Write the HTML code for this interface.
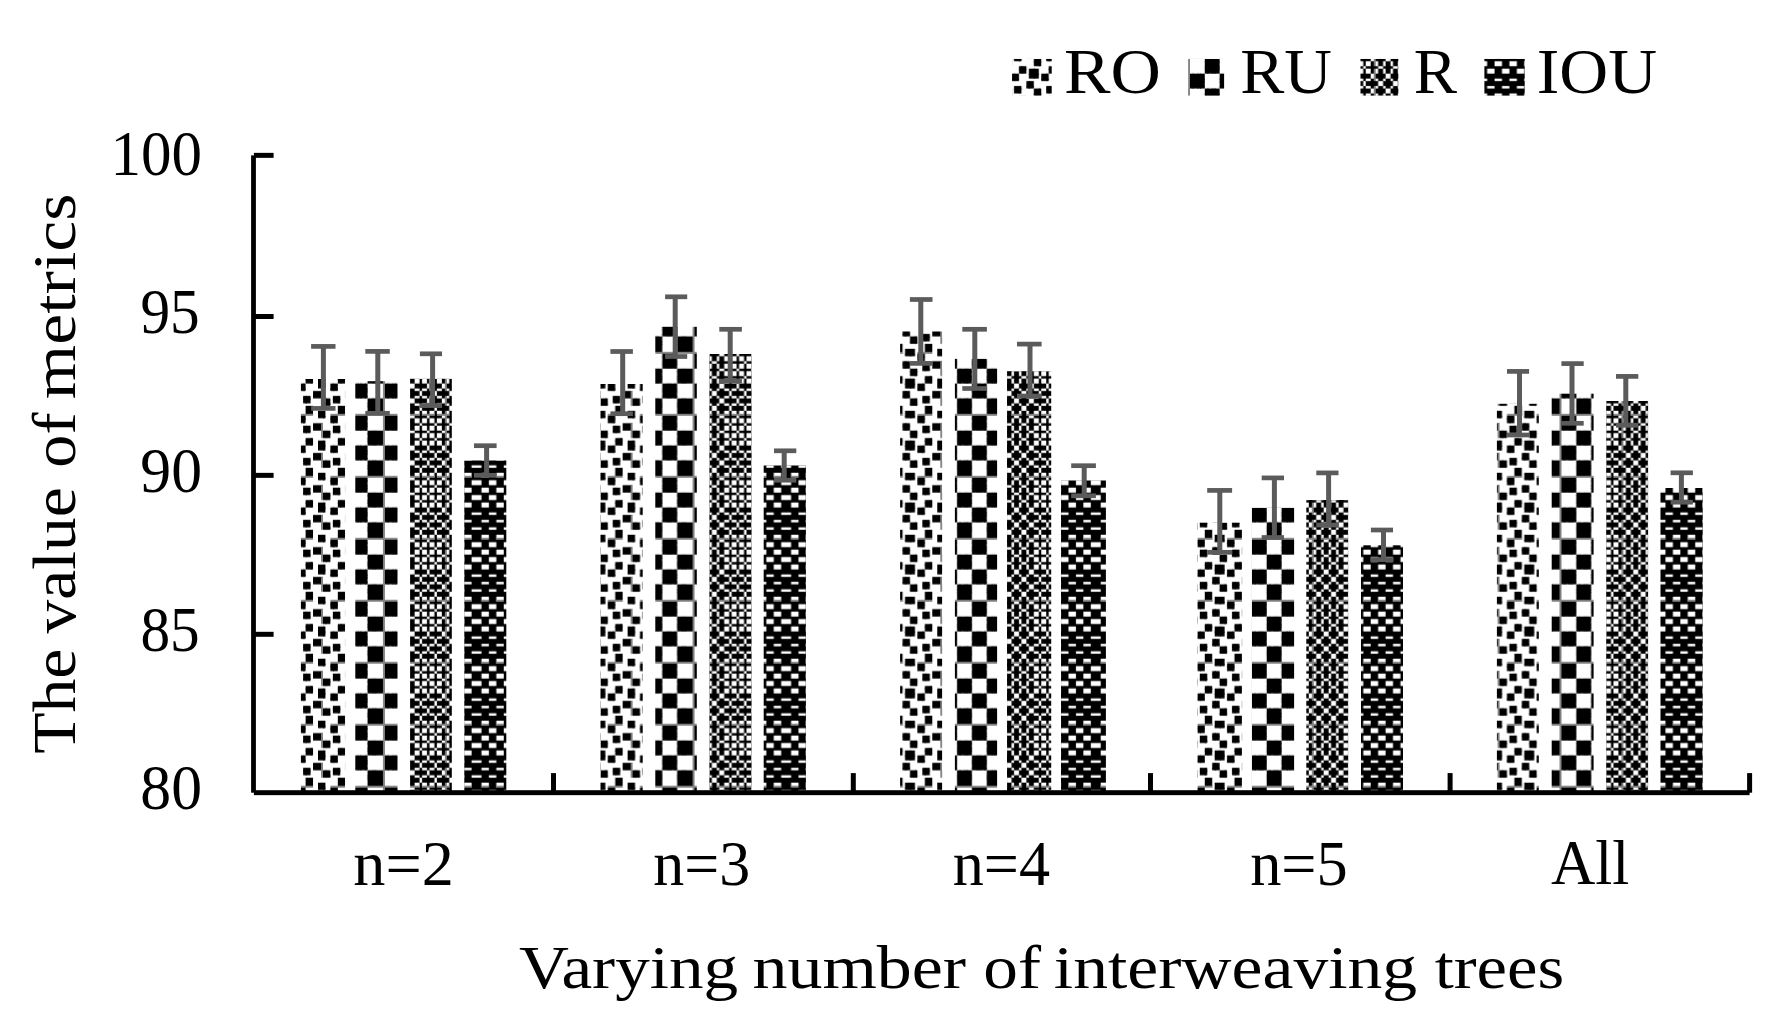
<!DOCTYPE html>
<html lang="en">
<head>
<meta charset="utf-8">
<title>Varying number of interweaving trees</title>
<style>
html,body{margin:0;padding:0;background:#fff;}
body{width:1775px;height:1026px;overflow:hidden;}
svg{display:block;}
text{font-family:'Liberation Serif', serif;fill:#000;}
</style>
</head>
<body>
<svg width="1775" height="1026" viewBox="0 0 1775 1026">
<defs>
<pattern id="p1" patternUnits="userSpaceOnUse" x="-53.550" y="-23.060" width="61.925" height="61.980"><rect x="-1" y="-1" width="63.92" height="63.98" fill="#fff"/><g fill="#000"><rect x="-1" y="-1" width="7.25" height="7.26"/><rect x="4.95" y="-1" width="2.48" height="7.26"/><rect x="19.82" y="-1" width="3.78" height="5.96"/><rect x="22.29" y="-1" width="4.95" height="5.96"/><rect x="29.72" y="-1" width="6.25" height="7.26"/><rect x="34.68" y="-1" width="4.95" height="7.26"/><rect x="49.54" y="-1" width="6.25" height="5.96"/><rect x="54.49" y="-1" width="2.48" height="5.96"/><rect x="-1" y="4.96" width="7.25" height="2.48"/><rect x="4.95" y="4.96" width="2.48" height="2.48"/><rect x="12.38" y="4.96" width="3.78" height="3.78"/><rect x="14.86" y="4.96" width="4.95" height="3.78"/><rect x="29.72" y="4.96" width="6.25" height="2.48"/><rect x="34.68" y="4.96" width="4.95" height="2.48"/><rect x="42.11" y="4.96" width="6.25" height="3.78"/><rect x="47.06" y="4.96" width="2.48" height="3.78"/><rect x="12.38" y="7.44" width="3.78" height="4.96"/><rect x="14.86" y="7.44" width="4.95" height="4.96"/><rect x="42.11" y="7.44" width="6.25" height="4.96"/><rect x="47.06" y="7.44" width="2.48" height="4.96"/><rect x="-1" y="12.4" width="5.95" height="3.78"/><rect x="27.25" y="12.4" width="3.78" height="3.78"/><rect x="29.72" y="12.4" width="4.95" height="3.78"/><rect x="56.97" y="12.4" width="7.25" height="3.78"/><rect x="-1" y="14.88" width="5.95" height="4.96"/><rect x="14.86" y="14.88" width="6.25" height="6.26"/><rect x="19.82" y="14.88" width="2.48" height="6.26"/><rect x="27.25" y="14.88" width="3.78" height="4.96"/><rect x="29.72" y="14.88" width="4.95" height="4.96"/><rect x="47.06" y="14.88" width="3.78" height="6.26"/><rect x="49.54" y="14.88" width="4.95" height="6.26"/><rect x="56.97" y="14.88" width="7.25" height="4.96"/><rect x="4.95" y="19.83" width="3.78" height="3.78"/><rect x="7.43" y="19.83" width="4.95" height="3.78"/><rect x="14.86" y="19.83" width="6.25" height="2.48"/><rect x="19.82" y="19.83" width="2.48" height="2.48"/><rect x="34.68" y="19.83" width="6.25" height="3.78"/><rect x="39.63" y="19.83" width="2.48" height="3.78"/><rect x="47.06" y="19.83" width="3.78" height="2.48"/><rect x="49.54" y="19.83" width="4.95" height="2.48"/><rect x="4.95" y="22.31" width="3.78" height="4.96"/><rect x="7.43" y="22.31" width="4.95" height="4.96"/><rect x="34.68" y="22.31" width="6.25" height="4.96"/><rect x="39.63" y="22.31" width="2.48" height="4.96"/><rect x="19.82" y="27.27" width="3.78" height="3.78"/><rect x="22.29" y="27.27" width="4.95" height="3.78"/><rect x="49.54" y="27.27" width="6.25" height="3.78"/><rect x="54.49" y="27.27" width="2.48" height="3.78"/><rect x="-1" y="29.75" width="7.25" height="6.26"/><rect x="4.95" y="29.75" width="2.48" height="6.26"/><rect x="19.82" y="29.75" width="3.78" height="4.96"/><rect x="22.29" y="29.75" width="4.95" height="4.96"/><rect x="29.72" y="29.75" width="6.25" height="6.26"/><rect x="34.68" y="29.75" width="4.95" height="6.26"/><rect x="49.54" y="29.75" width="6.25" height="4.96"/><rect x="54.49" y="29.75" width="2.48" height="4.96"/><rect x="-1" y="34.71" width="7.25" height="4.96"/><rect x="4.95" y="34.71" width="2.48" height="4.96"/><rect x="12.38" y="34.71" width="3.78" height="6.26"/><rect x="14.86" y="34.71" width="4.95" height="6.26"/><rect x="29.72" y="34.71" width="6.25" height="4.96"/><rect x="34.68" y="34.71" width="4.95" height="4.96"/><rect x="42.11" y="34.71" width="6.25" height="6.26"/><rect x="47.06" y="34.71" width="2.48" height="6.26"/><rect x="12.38" y="39.67" width="3.78" height="2.48"/><rect x="14.86" y="39.67" width="4.95" height="2.48"/><rect x="42.11" y="39.67" width="6.25" height="2.48"/><rect x="47.06" y="39.67" width="2.48" height="2.48"/><rect x="-1" y="42.15" width="5.95" height="6.26"/><rect x="27.25" y="42.15" width="3.78" height="6.26"/><rect x="29.72" y="42.15" width="4.95" height="6.26"/><rect x="56.97" y="42.15" width="7.25" height="6.26"/><rect x="-1" y="47.1" width="5.95" height="2.48"/><rect x="14.86" y="47.1" width="6.25" height="3.78"/><rect x="19.82" y="47.1" width="2.48" height="3.78"/><rect x="27.25" y="47.1" width="3.78" height="2.48"/><rect x="29.72" y="47.1" width="4.95" height="2.48"/><rect x="47.06" y="47.1" width="3.78" height="3.78"/><rect x="49.54" y="47.1" width="4.95" height="3.78"/><rect x="56.97" y="47.1" width="7.25" height="2.48"/><rect x="4.95" y="49.58" width="3.78" height="6.26"/><rect x="7.43" y="49.58" width="4.95" height="6.26"/><rect x="14.86" y="49.58" width="6.25" height="4.96"/><rect x="19.82" y="49.58" width="2.48" height="4.96"/><rect x="34.68" y="49.58" width="6.25" height="6.26"/><rect x="39.63" y="49.58" width="2.48" height="6.26"/><rect x="47.06" y="49.58" width="3.78" height="4.96"/><rect x="49.54" y="49.58" width="4.95" height="4.96"/><rect x="4.95" y="54.54" width="3.78" height="2.48"/><rect x="7.43" y="54.54" width="4.95" height="2.48"/><rect x="34.68" y="54.54" width="6.25" height="2.48"/><rect x="39.63" y="54.54" width="2.48" height="2.48"/><rect x="19.82" y="57.02" width="3.78" height="7.26"/><rect x="22.29" y="57.02" width="4.95" height="7.26"/><rect x="49.54" y="57.02" width="6.25" height="7.26"/><rect x="54.49" y="57.02" width="2.48" height="7.26"/></g><g fill="#848484"><rect x="3.05" y="12.4" width="1.9" height="14.88"/><rect x="3.05" y="42.15" width="1.9" height="14.88"/><rect x="12.38" y="3.05" width="14.86" height="1.9"/><rect x="42.11" y="3.05" width="14.86" height="1.9"/></g></pattern>
<pattern id="p2" patternUnits="userSpaceOnUse" x="-53.550" y="-23.060" width="61.925" height="61.980"><rect x="-1" y="-1" width="63.92" height="63.98" fill="#fff"/><g fill="#000"><rect x="-1" y="-1" width="5.95" height="5.96"/><rect x="19.82" y="-1" width="3.78" height="5.96"/><rect x="22.29" y="-1" width="6.25" height="5.96"/><rect x="27.25" y="-1" width="3.78" height="5.96"/><rect x="29.72" y="-1" width="4.95" height="5.96"/><rect x="49.54" y="-1" width="6.25" height="5.96"/><rect x="54.49" y="-1" width="3.78" height="5.96"/><rect x="56.97" y="-1" width="7.25" height="5.96"/><rect x="4.95" y="4.96" width="3.78" height="3.78"/><rect x="7.43" y="4.96" width="6.25" height="3.78"/><rect x="12.38" y="4.96" width="3.78" height="3.78"/><rect x="14.86" y="4.96" width="4.95" height="3.78"/><rect x="34.68" y="4.96" width="6.25" height="3.78"/><rect x="39.63" y="4.96" width="3.78" height="3.78"/><rect x="42.11" y="4.96" width="6.25" height="3.78"/><rect x="47.06" y="4.96" width="2.48" height="3.78"/><rect x="4.95" y="7.44" width="3.78" height="6.26"/><rect x="7.43" y="7.44" width="6.25" height="6.26"/><rect x="12.38" y="7.44" width="3.78" height="6.26"/><rect x="14.86" y="7.44" width="4.95" height="6.26"/><rect x="34.68" y="7.44" width="6.25" height="6.26"/><rect x="39.63" y="7.44" width="3.78" height="6.26"/><rect x="42.11" y="7.44" width="6.25" height="6.26"/><rect x="47.06" y="7.44" width="2.48" height="6.26"/><rect x="4.95" y="12.4" width="3.78" height="3.78"/><rect x="7.43" y="12.4" width="6.25" height="3.78"/><rect x="12.38" y="12.4" width="3.78" height="3.78"/><rect x="14.86" y="12.4" width="4.95" height="3.78"/><rect x="34.68" y="12.4" width="6.25" height="3.78"/><rect x="39.63" y="12.4" width="3.78" height="3.78"/><rect x="42.11" y="12.4" width="6.25" height="3.78"/><rect x="47.06" y="12.4" width="2.48" height="3.78"/><rect x="4.95" y="14.88" width="3.78" height="4.96"/><rect x="7.43" y="14.88" width="6.25" height="4.96"/><rect x="12.38" y="14.88" width="3.78" height="4.96"/><rect x="14.86" y="14.88" width="4.95" height="4.96"/><rect x="34.68" y="14.88" width="6.25" height="4.96"/><rect x="39.63" y="14.88" width="3.78" height="4.96"/><rect x="42.11" y="14.88" width="6.25" height="4.96"/><rect x="47.06" y="14.88" width="2.48" height="4.96"/><rect x="-1" y="19.83" width="5.95" height="3.78"/><rect x="19.82" y="19.83" width="3.78" height="3.78"/><rect x="22.29" y="19.83" width="6.25" height="3.78"/><rect x="27.25" y="19.83" width="3.78" height="3.78"/><rect x="29.72" y="19.83" width="4.95" height="3.78"/><rect x="49.54" y="19.83" width="6.25" height="3.78"/><rect x="54.49" y="19.83" width="3.78" height="3.78"/><rect x="56.97" y="19.83" width="7.25" height="3.78"/><rect x="-1" y="22.31" width="5.95" height="6.26"/><rect x="19.82" y="22.31" width="3.78" height="6.26"/><rect x="22.29" y="22.31" width="6.25" height="6.26"/><rect x="27.25" y="22.31" width="3.78" height="6.26"/><rect x="29.72" y="22.31" width="4.95" height="6.26"/><rect x="49.54" y="22.31" width="6.25" height="6.26"/><rect x="54.49" y="22.31" width="3.78" height="6.26"/><rect x="56.97" y="22.31" width="7.25" height="6.26"/><rect x="-1" y="27.27" width="5.95" height="3.78"/><rect x="19.82" y="27.27" width="3.78" height="3.78"/><rect x="22.29" y="27.27" width="6.25" height="3.78"/><rect x="27.25" y="27.27" width="3.78" height="3.78"/><rect x="29.72" y="27.27" width="4.95" height="3.78"/><rect x="49.54" y="27.27" width="6.25" height="3.78"/><rect x="54.49" y="27.27" width="3.78" height="3.78"/><rect x="56.97" y="27.27" width="7.25" height="3.78"/><rect x="-1" y="29.75" width="5.95" height="4.96"/><rect x="19.82" y="29.75" width="3.78" height="4.96"/><rect x="22.29" y="29.75" width="6.25" height="4.96"/><rect x="27.25" y="29.75" width="3.78" height="4.96"/><rect x="29.72" y="29.75" width="4.95" height="4.96"/><rect x="49.54" y="29.75" width="6.25" height="4.96"/><rect x="54.49" y="29.75" width="3.78" height="4.96"/><rect x="56.97" y="29.75" width="7.25" height="4.96"/><rect x="4.95" y="34.71" width="3.78" height="6.26"/><rect x="7.43" y="34.71" width="6.25" height="6.26"/><rect x="12.38" y="34.71" width="3.78" height="6.26"/><rect x="14.86" y="34.71" width="4.95" height="6.26"/><rect x="34.68" y="34.71" width="6.25" height="6.26"/><rect x="39.63" y="34.71" width="3.78" height="6.26"/><rect x="42.11" y="34.71" width="6.25" height="6.26"/><rect x="47.06" y="34.71" width="2.48" height="6.26"/><rect x="4.95" y="39.67" width="3.78" height="3.78"/><rect x="7.43" y="39.67" width="6.25" height="3.78"/><rect x="12.38" y="39.67" width="3.78" height="3.78"/><rect x="14.86" y="39.67" width="4.95" height="3.78"/><rect x="34.68" y="39.67" width="6.25" height="3.78"/><rect x="39.63" y="39.67" width="3.78" height="3.78"/><rect x="42.11" y="39.67" width="6.25" height="3.78"/><rect x="47.06" y="39.67" width="2.48" height="3.78"/><rect x="4.95" y="42.15" width="3.78" height="6.26"/><rect x="7.43" y="42.15" width="6.25" height="6.26"/><rect x="12.38" y="42.15" width="3.78" height="6.26"/><rect x="14.86" y="42.15" width="4.95" height="6.26"/><rect x="34.68" y="42.15" width="6.25" height="6.26"/><rect x="39.63" y="42.15" width="3.78" height="6.26"/><rect x="42.11" y="42.15" width="6.25" height="6.26"/><rect x="47.06" y="42.15" width="2.48" height="6.26"/><rect x="4.95" y="47.1" width="3.78" height="2.48"/><rect x="7.43" y="47.1" width="6.25" height="2.48"/><rect x="12.38" y="47.1" width="3.78" height="2.48"/><rect x="14.86" y="47.1" width="4.95" height="2.48"/><rect x="34.68" y="47.1" width="6.25" height="2.48"/><rect x="39.63" y="47.1" width="3.78" height="2.48"/><rect x="42.11" y="47.1" width="6.25" height="2.48"/><rect x="47.06" y="47.1" width="2.48" height="2.48"/><rect x="-1" y="49.58" width="5.95" height="6.26"/><rect x="19.82" y="49.58" width="3.78" height="6.26"/><rect x="22.29" y="49.58" width="6.25" height="6.26"/><rect x="27.25" y="49.58" width="3.78" height="6.26"/><rect x="29.72" y="49.58" width="4.95" height="6.26"/><rect x="49.54" y="49.58" width="6.25" height="6.26"/><rect x="54.49" y="49.58" width="3.78" height="6.26"/><rect x="56.97" y="49.58" width="7.25" height="6.26"/><rect x="-1" y="54.54" width="5.95" height="3.78"/><rect x="19.82" y="54.54" width="3.78" height="3.78"/><rect x="22.29" y="54.54" width="6.25" height="3.78"/><rect x="27.25" y="54.54" width="3.78" height="3.78"/><rect x="29.72" y="54.54" width="4.95" height="3.78"/><rect x="49.54" y="54.54" width="6.25" height="3.78"/><rect x="54.49" y="54.54" width="3.78" height="3.78"/><rect x="56.97" y="54.54" width="7.25" height="3.78"/><rect x="-1" y="57.02" width="5.95" height="7.26"/><rect x="19.82" y="57.02" width="3.78" height="7.26"/><rect x="22.29" y="57.02" width="6.25" height="7.26"/><rect x="27.25" y="57.02" width="3.78" height="7.26"/><rect x="29.72" y="57.02" width="4.95" height="7.26"/><rect x="49.54" y="57.02" width="6.25" height="7.26"/><rect x="54.49" y="57.02" width="3.78" height="7.26"/><rect x="56.97" y="57.02" width="7.25" height="7.26"/></g><g fill="#848484"><rect x="3.05" y="0" width="1.9" height="61.98"/><rect x="0" y="3.05" width="61.92" height="1.9"/></g></pattern>
<pattern id="p3" patternUnits="userSpaceOnUse" x="-53.550" y="-23.060" width="61.925" height="61.980"><rect x="-1" y="-1" width="63.92" height="63.98" fill="#000"/><g fill="#fff"><rect x="4.95" y="0" width="2.48" height="4.96"/><rect x="12.38" y="0" width="2.48" height="4.96"/><rect x="19.82" y="0" width="2.48" height="4.96"/><rect x="27.25" y="0" width="2.48" height="4.96"/><rect x="34.68" y="0" width="4.95" height="4.96"/><rect x="42.11" y="0" width="4.95" height="4.96"/><rect x="49.54" y="0" width="4.95" height="4.96"/><rect x="56.97" y="0" width="4.95" height="4.96"/><rect x="0" y="4.96" width="4.95" height="2.48"/><rect x="14.86" y="4.96" width="4.95" height="2.48"/><rect x="29.72" y="4.96" width="4.95" height="2.48"/><rect x="47.06" y="4.96" width="2.48" height="2.48"/><rect x="4.95" y="7.44" width="2.48" height="4.96"/><rect x="12.38" y="7.44" width="2.48" height="4.96"/><rect x="19.82" y="7.44" width="2.48" height="4.96"/><rect x="27.25" y="7.44" width="2.48" height="4.96"/><rect x="34.68" y="7.44" width="4.95" height="4.96"/><rect x="42.11" y="7.44" width="4.95" height="4.96"/><rect x="49.54" y="7.44" width="4.95" height="4.96"/><rect x="56.97" y="7.44" width="4.95" height="4.96"/><rect x="7.43" y="12.4" width="4.95" height="2.48"/><rect x="22.29" y="12.4" width="4.95" height="2.48"/><rect x="39.63" y="12.4" width="2.48" height="2.48"/><rect x="54.49" y="12.4" width="2.48" height="2.48"/><rect x="4.95" y="14.88" width="2.48" height="4.96"/><rect x="12.38" y="14.88" width="2.48" height="4.96"/><rect x="19.82" y="14.88" width="2.48" height="4.96"/><rect x="27.25" y="14.88" width="2.48" height="4.96"/><rect x="34.68" y="14.88" width="4.95" height="4.96"/><rect x="42.11" y="14.88" width="4.95" height="4.96"/><rect x="49.54" y="14.88" width="4.95" height="4.96"/><rect x="56.97" y="14.88" width="4.95" height="4.96"/><rect x="0" y="19.83" width="4.95" height="2.48"/><rect x="14.86" y="19.83" width="4.95" height="2.48"/><rect x="29.72" y="19.83" width="4.95" height="2.48"/><rect x="47.06" y="19.83" width="2.48" height="2.48"/><rect x="4.95" y="22.31" width="2.48" height="4.96"/><rect x="12.38" y="22.31" width="2.48" height="4.96"/><rect x="19.82" y="22.31" width="2.48" height="4.96"/><rect x="27.25" y="22.31" width="2.48" height="4.96"/><rect x="34.68" y="22.31" width="4.95" height="4.96"/><rect x="42.11" y="22.31" width="4.95" height="4.96"/><rect x="49.54" y="22.31" width="4.95" height="4.96"/><rect x="56.97" y="22.31" width="4.95" height="4.96"/><rect x="7.43" y="27.27" width="4.95" height="2.48"/><rect x="22.29" y="27.27" width="4.95" height="2.48"/><rect x="39.63" y="27.27" width="2.48" height="2.48"/><rect x="54.49" y="27.27" width="2.48" height="2.48"/><rect x="4.95" y="29.75" width="2.48" height="4.96"/><rect x="12.38" y="29.75" width="2.48" height="4.96"/><rect x="19.82" y="29.75" width="2.48" height="4.96"/><rect x="27.25" y="29.75" width="2.48" height="4.96"/><rect x="34.68" y="29.75" width="4.95" height="4.96"/><rect x="42.11" y="29.75" width="4.95" height="4.96"/><rect x="49.54" y="29.75" width="4.95" height="4.96"/><rect x="56.97" y="29.75" width="4.95" height="4.96"/><rect x="0" y="34.71" width="4.95" height="4.96"/><rect x="14.86" y="34.71" width="4.95" height="4.96"/><rect x="29.72" y="34.71" width="4.95" height="4.96"/><rect x="47.06" y="34.71" width="2.48" height="4.96"/><rect x="4.95" y="39.67" width="2.48" height="2.48"/><rect x="12.38" y="39.67" width="2.48" height="2.48"/><rect x="19.82" y="39.67" width="2.48" height="2.48"/><rect x="27.25" y="39.67" width="2.48" height="2.48"/><rect x="34.68" y="39.67" width="4.95" height="2.48"/><rect x="42.11" y="39.67" width="4.95" height="2.48"/><rect x="49.54" y="39.67" width="4.95" height="2.48"/><rect x="56.97" y="39.67" width="4.95" height="2.48"/><rect x="7.43" y="42.15" width="4.95" height="4.96"/><rect x="22.29" y="42.15" width="4.95" height="4.96"/><rect x="39.63" y="42.15" width="2.48" height="4.96"/><rect x="54.49" y="42.15" width="2.48" height="4.96"/><rect x="4.95" y="47.1" width="2.48" height="2.48"/><rect x="12.38" y="47.1" width="2.48" height="2.48"/><rect x="19.82" y="47.1" width="2.48" height="2.48"/><rect x="27.25" y="47.1" width="2.48" height="2.48"/><rect x="34.68" y="47.1" width="4.95" height="2.48"/><rect x="42.11" y="47.1" width="4.95" height="2.48"/><rect x="49.54" y="47.1" width="4.95" height="2.48"/><rect x="56.97" y="47.1" width="4.95" height="2.48"/><rect x="0" y="49.58" width="4.95" height="4.96"/><rect x="14.86" y="49.58" width="4.95" height="4.96"/><rect x="29.72" y="49.58" width="4.95" height="4.96"/><rect x="47.06" y="49.58" width="2.48" height="4.96"/><rect x="4.95" y="54.54" width="2.48" height="2.48"/><rect x="12.38" y="54.54" width="2.48" height="2.48"/><rect x="19.82" y="54.54" width="2.48" height="2.48"/><rect x="27.25" y="54.54" width="2.48" height="2.48"/><rect x="34.68" y="54.54" width="4.95" height="2.48"/><rect x="42.11" y="54.54" width="4.95" height="2.48"/><rect x="49.54" y="54.54" width="4.95" height="2.48"/><rect x="56.97" y="54.54" width="4.95" height="2.48"/><rect x="7.43" y="57.02" width="4.95" height="4.96"/><rect x="22.29" y="57.02" width="4.95" height="4.96"/><rect x="39.63" y="57.02" width="2.48" height="4.96"/><rect x="54.49" y="57.02" width="2.48" height="4.96"/></g><g fill="#848484"><rect x="3.05" y="0" width="1.9" height="12.4"/><rect x="3.05" y="14.88" width="1.9" height="12.4"/><rect x="3.05" y="29.75" width="1.9" height="12.4"/><rect x="3.05" y="47.1" width="1.9" height="9.92"/><rect x="0" y="3.05" width="7.43" height="1.9"/><rect x="12.38" y="3.05" width="9.91" height="1.9"/><rect x="27.25" y="3.05" width="12.38" height="1.9"/><rect x="42.11" y="3.05" width="12.39" height="1.9"/><rect x="56.97" y="3.05" width="4.95" height="1.9"/></g></pattern>
<pattern id="p4" patternUnits="userSpaceOnUse" x="-53.550" y="-23.060" width="61.925" height="61.980"><rect x="-1" y="-1" width="63.92" height="63.98" fill="#000"/><g fill="#fff"><rect x="7.43" y="0" width="7.43" height="4.96"/><rect x="22.29" y="0" width="7.43" height="4.96"/><rect x="39.63" y="0" width="7.43" height="4.96"/><rect x="54.49" y="0" width="7.43" height="4.96"/><rect x="0" y="7.44" width="7.43" height="4.96"/><rect x="14.86" y="7.44" width="7.43" height="4.96"/><rect x="29.72" y="7.44" width="9.91" height="4.96"/><rect x="47.06" y="7.44" width="7.43" height="4.96"/><rect x="7.43" y="14.88" width="7.43" height="4.96"/><rect x="22.29" y="14.88" width="7.43" height="4.96"/><rect x="39.63" y="14.88" width="7.43" height="4.96"/><rect x="54.49" y="14.88" width="7.43" height="4.96"/><rect x="0" y="22.31" width="7.43" height="4.96"/><rect x="14.86" y="22.31" width="7.43" height="4.96"/><rect x="29.72" y="22.31" width="9.91" height="4.96"/><rect x="47.06" y="22.31" width="7.43" height="4.96"/><rect x="7.43" y="29.75" width="7.43" height="4.96"/><rect x="22.29" y="29.75" width="7.43" height="4.96"/><rect x="39.63" y="29.75" width="7.43" height="4.96"/><rect x="54.49" y="29.75" width="7.43" height="4.96"/><rect x="0" y="39.67" width="7.43" height="2.48"/><rect x="14.86" y="39.67" width="7.43" height="2.48"/><rect x="29.72" y="39.67" width="9.91" height="2.48"/><rect x="47.06" y="39.67" width="7.43" height="2.48"/><rect x="7.43" y="47.1" width="7.43" height="2.48"/><rect x="22.29" y="47.1" width="7.43" height="2.48"/><rect x="39.63" y="47.1" width="7.43" height="2.48"/><rect x="54.49" y="47.1" width="7.43" height="2.48"/><rect x="0" y="54.54" width="7.43" height="2.48"/><rect x="14.86" y="54.54" width="7.43" height="2.48"/><rect x="29.72" y="54.54" width="9.91" height="2.48"/><rect x="47.06" y="54.54" width="7.43" height="2.48"/></g><g fill="#848484"><rect x="7.43" y="3.05" width="7.43" height="1.9"/><rect x="22.29" y="3.05" width="7.43" height="1.9"/><rect x="39.63" y="3.05" width="7.43" height="1.9"/><rect x="54.49" y="3.05" width="7.43" height="1.9"/></g></pattern>
</defs>
<rect x="0" y="0" width="1775" height="1026" fill="#fff"/>
<g id="bars">
<rect x="300.9" y="379" width="44.2" height="413.75" fill="url(#p1)"/>
<rect x="355.3" y="381.2" width="42.2" height="411.55" fill="url(#p2)"/>
<rect x="410.1" y="378.8" width="41.7" height="413.95" fill="url(#p3)"/>
<rect x="464.3" y="460.5" width="42" height="332.25" fill="url(#p4)"/>
<rect x="600.5" y="384" width="42.2" height="408.75" fill="url(#p1)"/>
<rect x="655.3" y="326.8" width="41.5" height="465.95" fill="url(#p2)"/>
<rect x="709.4" y="354" width="42.15" height="438.75" fill="url(#p3)"/>
<rect x="763.7" y="465.5" width="42.2" height="327.25" fill="url(#p4)"/>
<rect x="900.1" y="331.5" width="42" height="461.25" fill="url(#p1)"/>
<rect x="954.9" y="358.9" width="42.2" height="433.85" fill="url(#p2)"/>
<rect x="1007" y="371.2" width="44.2" height="421.55" fill="url(#p3)"/>
<rect x="1061" y="480.5" width="44.9" height="312.25" fill="url(#p4)"/>
<rect x="1197.4" y="522.7" width="44.7" height="270.05" fill="url(#p1)"/>
<rect x="1251.9" y="507.8" width="42.2" height="284.95" fill="url(#p2)"/>
<rect x="1306.3" y="500" width="41.9" height="292.75" fill="url(#p3)"/>
<rect x="1361" y="545.3" width="42" height="247.45" fill="url(#p4)"/>
<rect x="1496.9" y="403.8" width="41.9" height="388.95" fill="url(#p1)"/>
<rect x="1551.7" y="393.7" width="41.9" height="399.05" fill="url(#p2)"/>
<rect x="1606.2" y="401" width="41.9" height="391.75" fill="url(#p3)"/>
<rect x="1660.5" y="488" width="42.2" height="304.75" fill="url(#p4)"/>
</g>
<g id="errorbars" fill="#5b5b5b">
<rect x="320.9" y="346.4" width="5" height="62"/><rect x="311.1" y="344.05" width="24.4" height="4.7"/><rect x="311.1" y="406.05" width="24.4" height="4.7"/>
<rect x="375.3" y="351.4" width="5" height="61.9"/><rect x="365.3" y="349.05" width="24.5" height="4.7"/><rect x="365.3" y="410.95" width="24.5" height="4.7"/>
<rect x="430.1" y="353.8" width="5" height="51.8"/><rect x="419.9" y="351.45" width="22.1" height="4.7"/><rect x="419.9" y="403.25" width="22.1" height="4.7"/>
<rect x="484.1" y="445.7" width="5" height="29.6"/><rect x="474" y="443.35" width="22.6" height="4.7"/><rect x="474" y="472.95" width="22.6" height="4.7"/>
<rect x="620.2" y="351.5" width="5" height="62.2"/><rect x="610.4" y="349.15" width="22.5" height="4.7"/><rect x="610.4" y="411.35" width="22.5" height="4.7"/>
<rect x="672.7" y="296.8" width="5" height="59.7"/><rect x="665.1" y="294.45" width="22.1" height="4.7"/><rect x="665.1" y="354.15" width="22.1" height="4.7"/>
<rect x="727.7" y="329.3" width="5" height="51.8"/><rect x="719.3" y="326.95" width="22.6" height="4.7"/><rect x="719.3" y="378.75" width="22.6" height="4.7"/>
<rect x="781.7" y="450.8" width="5" height="29.4"/><rect x="774" y="448.45" width="22.3" height="4.7"/><rect x="774" y="477.85" width="22.3" height="4.7"/>
<rect x="918.3" y="299.5" width="5" height="63.9"/><rect x="909.9" y="297.15" width="22.6" height="4.7"/><rect x="909.9" y="361.05" width="22.6" height="4.7"/>
<rect x="972.3" y="329.3" width="5" height="59.2"/><rect x="962.3" y="326.95" width="24.6" height="4.7"/><rect x="962.3" y="386.15" width="24.6" height="4.7"/>
<rect x="1027.5" y="344.1" width="5" height="51.9"/><rect x="1017" y="341.75" width="24.6" height="4.7"/><rect x="1017" y="393.65" width="24.6" height="4.7"/>
<rect x="1081.7" y="465.7" width="5" height="30.1"/><rect x="1071.2" y="463.35" width="24.7" height="4.7"/><rect x="1071.2" y="493.45" width="24.7" height="4.7"/>
<rect x="1217.3" y="490.4" width="5" height="61.9"/><rect x="1207.2" y="488.05" width="24.9" height="4.7"/><rect x="1207.2" y="549.95" width="24.9" height="4.7"/>
<rect x="1271.9" y="477.9" width="5" height="59.6"/><rect x="1261.7" y="475.55" width="22.3" height="4.7"/><rect x="1261.7" y="535.15" width="22.3" height="4.7"/>
<rect x="1326.1" y="472.9" width="5" height="52.1"/><rect x="1316.3" y="470.55" width="22.2" height="4.7"/><rect x="1316.3" y="522.65" width="22.2" height="4.7"/>
<rect x="1381" y="530" width="5" height="29.6"/><rect x="1370.9" y="527.65" width="22.1" height="4.7"/><rect x="1370.9" y="557.25" width="22.1" height="4.7"/>
<rect x="1517" y="371.4" width="5" height="63.6"/><rect x="1507" y="369.05" width="22.1" height="4.7"/><rect x="1507" y="432.65" width="22.1" height="4.7"/>
<rect x="1569.5" y="363.6" width="5" height="59.7"/><rect x="1561.4" y="361.25" width="22.3" height="4.7"/><rect x="1561.4" y="420.95" width="22.3" height="4.7"/>
<rect x="1623.3" y="376.4" width="5" height="48.9"/><rect x="1616" y="374.05" width="22.3" height="4.7"/><rect x="1616" y="422.95" width="22.3" height="4.7"/>
<rect x="1678.9" y="472.8" width="5" height="29.4"/><rect x="1670.6" y="470.45" width="22.3" height="4.7"/><rect x="1670.6" y="499.85" width="22.3" height="4.7"/>
</g>
<g id="axes" fill="#000">
<rect x="251.1" y="155.4" width="4.8" height="637.3"/><rect x="253.9" y="790.2" width="1495.7" height="4.95"/><rect x="253.9" y="152.85" width="19.7" height="5"/><rect x="253.9" y="314" width="19.7" height="5"/><rect x="253.9" y="472.85" width="19.7" height="5"/><rect x="253.9" y="631.8" width="19.7" height="5"/><rect x="551" y="773.1" width="5" height="19.6"/><rect x="850.8" y="773.1" width="5" height="19.6"/><rect x="1148" y="773.1" width="5" height="19.6"/><rect x="1447.6" y="773.1" width="5" height="19.6"/><rect x="1747.1" y="773.1" width="5" height="19.6"/>
</g>
<g id="legend">
<rect x="1012" y="58.95" width="39.7" height="36.65" fill="url(#p1)"/><rect x="1188.15" y="58.95" width="35.95" height="36.65" fill="url(#p2)"/><rect x="1360.5" y="58.95" width="37.8" height="36.65" fill="url(#p3)"/><rect x="1484.4" y="58.95" width="40.3" height="36.65" fill="url(#p4)"/>
<text x="1064.05" y="0" font-size="63" textLength="96.81" lengthAdjust="spacingAndGlyphs" transform="translate(0 93.3) scale(1 1.02)">RO</text>
<text x="1240.28" y="0" font-size="63" textLength="91.67" lengthAdjust="spacingAndGlyphs" transform="translate(0 93.3) scale(1 1.02)">RU</text>
<text x="1413.71" y="0" font-size="63" textLength="43.25" lengthAdjust="spacingAndGlyphs" transform="translate(0 93.3) scale(1 1.02)">R</text>
<text x="1536.77" y="0" font-size="63" textLength="120.28" lengthAdjust="spacingAndGlyphs" transform="translate(0 93.3) scale(1 1.02)">IOU</text>

</g>
<g id="yticks">
<text x="110.5" y="0" font-size="59" textLength="91.51" lengthAdjust="spacingAndGlyphs" transform="translate(0 174.59) scale(1 1.06)">100</text>
<text x="140.4" y="0" font-size="59" textLength="59.23" lengthAdjust="spacingAndGlyphs" transform="translate(0 333.4) scale(1 1.06)">95</text>
<text x="140.34" y="0" font-size="59" textLength="61.68" lengthAdjust="spacingAndGlyphs" transform="translate(0 492.44) scale(1 1.07)">90</text>
<text x="140.43" y="0" font-size="59" textLength="59.21" lengthAdjust="spacingAndGlyphs" transform="translate(0 651) scale(1 1.07)">85</text>
<text x="140.33" y="0" font-size="59" textLength="61.68" lengthAdjust="spacingAndGlyphs" transform="translate(0 809.45) scale(1 1.06)">80</text>

</g>
<g id="xcats">
<text x="353.32" y="0" font-size="59" textLength="100.46" lengthAdjust="spacingAndGlyphs" transform="translate(0 884.95) scale(1 1.09)">n=2</text>
<text x="653.3" y="0" font-size="59" textLength="96.91" lengthAdjust="spacingAndGlyphs" transform="translate(0 884.95) scale(1 1.09)">n=3</text>
<text x="952.71" y="0" font-size="59" textLength="97.31" lengthAdjust="spacingAndGlyphs" transform="translate(0 884.95) scale(1 1.09)">n=4</text>
<text x="1250.18" y="0" font-size="59" textLength="97.51" lengthAdjust="spacingAndGlyphs" transform="translate(0 884.95) scale(1 1.09)">n=5</text>
<text x="1550.93" y="0" font-size="59" textLength="78.49" lengthAdjust="spacingAndGlyphs" transform="translate(0 884.35) scale(1 1.08)">All</text>

</g>
<g id="xtitle">
<text x="519.14" y="0" font-size="61.5" textLength="218.97" lengthAdjust="spacingAndGlyphs" transform="translate(0 988) scale(1 1)">Varying</text>
<text x="752.49" y="0" font-size="61.5" textLength="213.52" lengthAdjust="spacingAndGlyphs" transform="translate(0 988) scale(1 1)">number</text>
<text x="983.33" y="0" font-size="61.5" textLength="57.67" lengthAdjust="spacingAndGlyphs" transform="translate(0 988) scale(1 1)">of</text>
<text x="1053.84" y="0" font-size="61.5" textLength="363.28" lengthAdjust="spacingAndGlyphs" transform="translate(0 988) scale(1 1)">interweaving</text>
<text x="1434.73" y="0" font-size="61.5" textLength="129.43" lengthAdjust="spacingAndGlyphs" transform="translate(0 988) scale(1 1)">trees</text>

</g>
<g id="ytitle" transform="rotate(-90)">
<text x="-753.84" y="0" font-size="61.5" textLength="105.22" lengthAdjust="spacingAndGlyphs" transform="translate(0 75.4) scale(1 1)">The</text>
<text x="-633.4" y="0" font-size="61.5" textLength="146.19" lengthAdjust="spacingAndGlyphs" transform="translate(0 75.4) scale(1 1)">value</text>
<text x="-467.66" y="0" font-size="61.5" textLength="55.16" lengthAdjust="spacingAndGlyphs" transform="translate(0 75.4) scale(1 1)">of</text>
<text x="-399.17" y="0" font-size="61.5" textLength="205.67" lengthAdjust="spacingAndGlyphs" transform="translate(0 75.4) scale(1 1)">metrics</text>

</g>
</svg>
</body>
</html>
